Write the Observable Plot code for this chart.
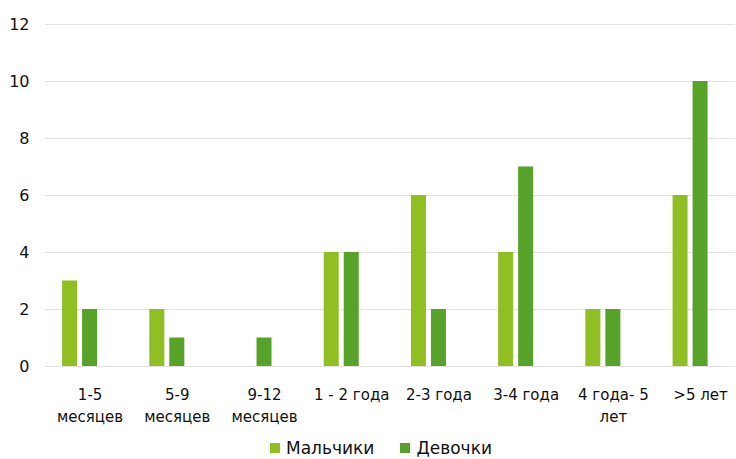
<!DOCTYPE html>
<html>
<head>
<meta charset="utf-8">
<script src="https://cdn.jsdelivr.net/npm/d3@7"></script>
<script src="https://cdn.jsdelivr.net/npm/@observablehq/plot@0.6"></script>
<style>
  html, body { margin: 0; padding: 0; background: #fff; overflow: hidden; }
  #chart svg { display: block; }
  #legend { display: flex; justify-content: center; align-items: center; gap: 26px;
    font-family: "DejaVu Sans", sans-serif; font-size: 17px; line-height: 20px; color: #111; height: 20px; padding-top: 10px; margin-left: 26px; }
  #legend span.sw { display: inline-block; width: 10px; height: 10px; margin-right: 6px; }
  #legend div { display: flex; align-items: center; }
</style>
</head>
<body>
<div id="chart"></div>
<div id="legend"></div>
<script>
const categories = ["1-5\nмесяцев", "5-9\nмесяцев", "9-12\nмесяцев", "1 - 2 года", "2-3 года", "3-4 года", "4 года- 5\nлет", ">5 лет"];
const series = ["Мальчики", "Девочки"];
const boys = [3, 2, 0, 4, 6, 4, 2, 6];
const girls = [2, 1, 1, 4, 2, 7, 2, 10];
const yTicks = [0, 2, 4, 6, 8, 10, 12];
const colors = ["#8fbf22", "#57a229"];

const data = [];
categories.forEach((c, i) => {
  data.push({cat: c, sex: series[0], value: boys[i]});
  data.push({cat: c, sex: series[1], value: girls[i]});
});

const plot = Plot.plot({
  width: 736,
  height: 428,
  marginLeft: 45,
  marginRight: 1,
  marginTop: 24,
  marginBottom: 62,
  style: {fontFamily: "DejaVu Sans, sans-serif", fontSize: "15px", color: "#111"},
  x: {domain: categories, paddingInner: 0.828, paddingOuter: 0.37, align: 0.42, round: false, label: null},
  y: {domain: [0, 12], label: null},
  color: {domain: series, range: colors},
  marks: [
    Plot.ruleY(yTicks, {stroke: "#e2e2e2", strokeWidth: 1}),
    Plot.barY(data.filter(d => d.sex === series[0]), {x: "cat", y: "value", fill: "sex", dx: -10}),
    Plot.barY(data.filter(d => d.sex === series[1]), {x: "cat", y: "value", fill: "sex", dx: 10}),
    Plot.axisY({ticks: yTicks, tickSize: 0, tickPadding: 16, label: null, fontSize: 16}),
    Plot.axisX({tickSize: 0, tickPadding: 18, dx: 10, lineHeight: 1.45, label: null, fontSize: 15})
  ]
});
document.getElementById("chart").appendChild(plot);

const legend = document.getElementById("legend");
series.forEach((s, i) => {
  const d = document.createElement("div");
  d.innerHTML = `<span class="sw" style="background:${colors[i]}"></span>${s}`;
  legend.appendChild(d);
});
</script>
</body>
</html>
